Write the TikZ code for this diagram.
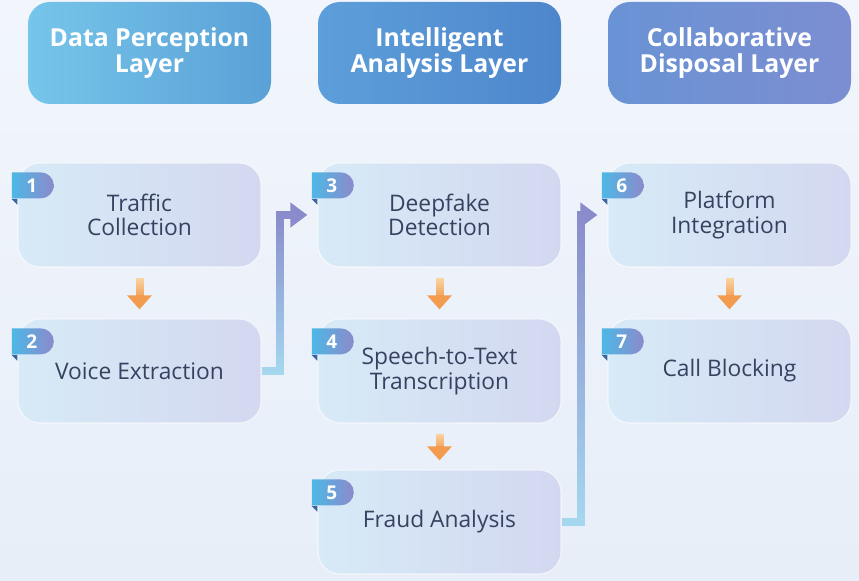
\documentclass[tikz,border=0pt]{standalone}
\usepackage{fontspec}
\setmainfont{Open Sans}
\usetikzlibrary{positioning,calc,arrows.meta,shapes.misc,fadings}

\definecolor{bgT}{HTML}{F2F6FC}
\definecolor{bgB}{HTML}{E7EEF8}
\definecolor{hOneL}{HTML}{76C5EA}
\definecolor{hOneR}{HTML}{5AA1D7}
\definecolor{hTwoL}{HTML}{5D9FDA}
\definecolor{hTwoR}{HTML}{4E86CC}
\definecolor{hThreeL}{HTML}{6993D5}
\definecolor{hThreeR}{HTML}{7C8ED1}
\definecolor{boxL}{HTML}{D7EAF7}
\definecolor{boxR}{HTML}{D3D8F0}
\definecolor{ink}{HTML}{36425F}
\definecolor{badgeL}{HTML}{4DB8E6}
\definecolor{badgeR}{HTML}{8C8ACB}
\definecolor{badgeD}{HTML}{3B65A0}
\definecolor{orangeD}{HTML}{F39B4E}
\definecolor{orangeL}{HTML}{FCE0B8}
\definecolor{linkT}{HTML}{8A8BCB}
\definecolor{linkB}{HTML}{A6D9F0}

\begin{document}
\begin{tikzpicture}[
  x=0.5pt, y=-0.5pt,
  layer/.style={rounded corners=11pt, minimum width=121.5pt, minimum height=51pt, align=center, text=white, font=\bfseries\fontsize{12.4}{12.6}\selectfont},
  stepbox/.style={rounded corners=11pt, minimum width=121.5pt, minimum height=52pt, align=center, text=ink, font=\fontsize{11.4}{12.2}\selectfont, left color=boxL, right color=boxR, draw=white, draw opacity=0.6, line width=0.6pt},
  badge/.style={rounded rectangle, rounded rectangle west arc=none, minimum width=21pt, minimum height=13pt, inner sep=0pt, left color=badgeL, right color=badgeR, text=white, font=\bfseries\fontsize{9.5}{9.5}\selectfont, anchor=west},
  fold/.style={fill=badgeD},
  down/.style={line width=4pt, draw=orangeD, -{Triangle[width=12pt, length=7pt]}},
  downfade/.style={line width=4pt, draw=orangeL, path fading=south},
  link/.style={line width=4pt, draw=linkT, -{Triangle[width=12pt, length=8.5pt]}, shorten >=5pt},
  linkfade/.style={line width=4pt, draw=linkB, path fading=north, shorten >=13pt},
  node distance=78pt
]
\shade[top color=bgT, bottom color=bgB] (0,0) rectangle (859,581);

% layers
\node[layer, left color=hOneL, right color=hOneR] (perception) at (149.5,53) {Data Perception\\Layer};
\node[layer, left color=hTwoL, right color=hTwoR] (analysis) at (439.5,53) {Intelligent\\Analysis Layer};
\node[layer, left color=hThreeL, right color=hThreeR] (disposal) at (729.5,53) {Collaborative\\Disposal Layer};

% steps
\node[stepbox, below of=perception, node distance=81pt, xshift=-5pt] (traffic) {Traffic\\Collection};
\node[stepbox, below of=traffic] (voice) {Voice Extraction};
\node[stepbox, below of=analysis, node distance=81pt] (deepfake) {Deepfake\\Detection};
\node[stepbox, below of=deepfake] (speech) {Speech-to-Text\\Transcription};
\node[stepbox, below of=speech, node distance=75.5pt] (fraud) {Fraud Analysis};
\node[stepbox, below of=disposal, node distance=81pt] (platform) {Platform\\Integration};
\node[stepbox, below of=platform] (blocking) {Call Blocking};

% badges
\node[badge] (n1) at ($(traffic.north west)+(-6,23)$) {1};
\node[badge] (n2) at ($(voice.north west)+(-6,23)$) {2};
\node[badge] (n3) at ($(deepfake.north west)+(-6,23)$) {3};
\node[badge] (n4) at ($(speech.north west)+(-6,23)$) {4};
\node[badge] (n5) at ($(fraud.north west)+(-6,23)$) {5};
\node[badge] (n6) at ($(platform.north west)+(-6,23)$) {6};
\node[badge] (n7) at ($(blocking.north west)+(-6,23)$) {7};
\foreach \n in {n1,n2,n3,n4,n5,n6,n7}
  \fill[fold] (\n.south west) -- ++(6,0) -- ++(0,6) -- cycle;

% arrows within a layer
\draw[down] ($(traffic.south)+(0,10)$) -- ($(voice.north)+(0,-9)$);
\draw[downfade] ($(traffic.south)+(0,10)$) -- ($(voice.north)+(0,-23)$);
\draw[down] ($(deepfake.south)+(0,10)$) -- ($(speech.north)+(0,-9)$);
\draw[downfade] ($(deepfake.south)+(0,10)$) -- ($(speech.north)+(0,-23)$);
\draw[down] ($(speech.south)+(0,10)$) -- ($(fraud.north)+(0,-9)$);
\draw[downfade] ($(speech.south)+(0,10)$) -- ($(fraud.north)+(0,-23)$);
\draw[down] ($(platform.south)+(0,10)$) -- ($(blocking.north)+(0,-9)$);
\draw[downfade] ($(platform.south)+(0,10)$) -- ($(blocking.north)+(0,-23)$);

% arrows between layers
\draw[link] (voice.east) -- ++(18,0) |- (deepfake.west);
\draw[linkfade] (voice.east) -- ++(18,0) |- (deepfake.west);
\draw[link] (fraud.east) -- ++(19,0) |- (platform.west);
\draw[linkfade] (fraud.east) -- ++(19,0) |- (platform.west);
\end{tikzpicture}
\end{document}
